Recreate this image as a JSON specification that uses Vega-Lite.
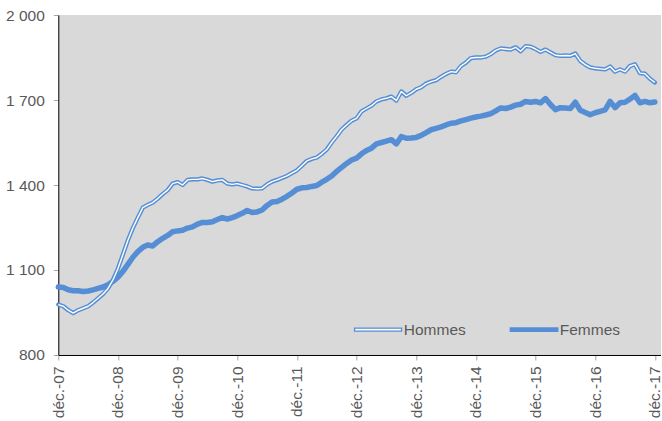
{
  "$schema": "https://vega.github.io/schema/vega-lite/v6.json",
  "width": 603,
  "height": 340,
  "autosize": {"type": "none"},
  "padding": {"left": 58.3, "top": 15, "right": 0, "bottom": 66},
  "background": "white",
  "config": {"view": {"fill": "#d9d9d9", "stroke": null}, "font": "Liberation Sans"},
  "data": {"values": [
    {"mois":0,"Hommes":978,"Femmes":1040},{"mois":1,"Hommes":972,"Femmes":1038},{"mois":2,"Hommes":958,"Femmes":1030},{"mois":3,"Hommes":948,"Femmes":1027},{"mois":4,"Hommes":958,"Femmes":1027},{"mois":5,"Hommes":965,"Femmes":1024},{"mois":6,"Hommes":972,"Femmes":1026},{"mois":7,"Hommes":985,"Femmes":1030},{"mois":8,"Hommes":1000,"Femmes":1035},{"mois":9,"Hommes":1015,"Femmes":1040},
    {"mois":10,"Hommes":1035,"Femmes":1048},{"mois":11,"Hommes":1065,"Femmes":1060},{"mois":12,"Hommes":1105,"Femmes":1075},{"mois":13,"Hommes":1155,"Femmes":1095},{"mois":14,"Hommes":1205,"Femmes":1120},{"mois":15,"Hommes":1248,"Femmes":1145},{"mois":16,"Hommes":1285,"Femmes":1165},{"mois":17,"Hommes":1320,"Femmes":1180},{"mois":18,"Hommes":1330,"Femmes":1188},{"mois":19,"Hommes":1338,"Femmes":1185},
    {"mois":20,"Hommes":1352,"Femmes":1200},{"mois":21,"Hommes":1368,"Femmes":1212},{"mois":22,"Hommes":1382,"Femmes":1222},{"mois":23,"Hommes":1405,"Femmes":1235},{"mois":24,"Hommes":1410,"Femmes":1238},{"mois":25,"Hommes":1400,"Femmes":1240},{"mois":26,"Hommes":1418,"Femmes":1248},{"mois":27,"Hommes":1420,"Femmes":1252},{"mois":28,"Hommes":1420,"Femmes":1262},{"mois":29,"Hommes":1423,"Femmes":1268},
    {"mois":30,"Hommes":1418,"Femmes":1268},{"mois":31,"Hommes":1412,"Femmes":1270},{"mois":32,"Hommes":1416,"Femmes":1278},{"mois":33,"Hommes":1418,"Femmes":1285},{"mois":34,"Hommes":1405,"Femmes":1280},{"mois":35,"Hommes":1402,"Femmes":1285},{"mois":36,"Hommes":1405,"Femmes":1292},{"mois":37,"Hommes":1400,"Femmes":1300},{"mois":38,"Hommes":1395,"Femmes":1310},{"mois":39,"Hommes":1388,"Femmes":1303},
    {"mois":40,"Hommes":1387,"Femmes":1305},{"mois":41,"Hommes":1388,"Femmes":1312},{"mois":42,"Hommes":1402,"Femmes":1328},{"mois":43,"Hommes":1412,"Femmes":1340},{"mois":44,"Hommes":1418,"Femmes":1342},{"mois":45,"Hommes":1425,"Femmes":1350},{"mois":46,"Hommes":1432,"Femmes":1360},{"mois":47,"Hommes":1442,"Femmes":1372},{"mois":48,"Hommes":1452,"Femmes":1385},{"mois":49,"Hommes":1468,"Femmes":1390},
    {"mois":50,"Hommes":1485,"Femmes":1391},{"mois":51,"Hommes":1492,"Femmes":1395},{"mois":52,"Hommes":1497,"Femmes":1398},{"mois":53,"Hommes":1510,"Femmes":1410},{"mois":54,"Hommes":1525,"Femmes":1420},{"mois":55,"Hommes":1550,"Femmes":1432},{"mois":56,"Hommes":1572,"Femmes":1448},{"mois":57,"Hommes":1596,"Femmes":1462},{"mois":58,"Hommes":1612,"Femmes":1476},{"mois":59,"Hommes":1627,"Femmes":1488},
    {"mois":60,"Hommes":1635,"Femmes":1495},{"mois":61,"Hommes":1660,"Femmes":1510},{"mois":62,"Hommes":1670,"Femmes":1522},{"mois":63,"Hommes":1680,"Femmes":1530},{"mois":64,"Hommes":1695,"Femmes":1545},{"mois":65,"Hommes":1702,"Femmes":1550},{"mois":66,"Hommes":1706,"Femmes":1555},{"mois":67,"Hommes":1712,"Femmes":1560},{"mois":68,"Hommes":1698,"Femmes":1545},{"mois":69,"Hommes":1730,"Femmes":1571},
    {"mois":70,"Hommes":1715,"Femmes":1565},{"mois":71,"Hommes":1725,"Femmes":1566},{"mois":72,"Hommes":1738,"Femmes":1568},{"mois":73,"Hommes":1745,"Femmes":1575},{"mois":74,"Hommes":1758,"Femmes":1585},{"mois":75,"Hommes":1765,"Femmes":1595},{"mois":76,"Hommes":1770,"Femmes":1600},{"mois":77,"Hommes":1782,"Femmes":1605},{"mois":78,"Hommes":1792,"Femmes":1612},{"mois":79,"Hommes":1800,"Femmes":1618},
    {"mois":80,"Hommes":1798,"Femmes":1620},{"mois":81,"Hommes":1820,"Femmes":1626},{"mois":82,"Hommes":1832,"Femmes":1631},{"mois":83,"Hommes":1848,"Femmes":1636},{"mois":84,"Hommes":1850,"Femmes":1640},{"mois":85,"Hommes":1850,"Femmes":1643},{"mois":86,"Hommes":1853,"Femmes":1647},{"mois":87,"Hommes":1862,"Femmes":1652},{"mois":88,"Hommes":1875,"Femmes":1662},{"mois":89,"Hommes":1882,"Femmes":1672},
    {"mois":90,"Hommes":1880,"Femmes":1670},{"mois":91,"Hommes":1878,"Femmes":1675},{"mois":92,"Hommes":1886,"Femmes":1682},{"mois":93,"Hommes":1872,"Femmes":1685},{"mois":94,"Hommes":1890,"Femmes":1695},{"mois":95,"Hommes":1888,"Femmes":1692},{"mois":96,"Hommes":1880,"Femmes":1695},{"mois":97,"Hommes":1870,"Femmes":1690},{"mois":98,"Hommes":1878,"Femmes":1705},{"mois":99,"Hommes":1868,"Femmes":1684},
    {"mois":100,"Hommes":1858,"Femmes":1666},{"mois":101,"Hommes":1856,"Femmes":1673},{"mois":102,"Hommes":1857,"Femmes":1672},{"mois":103,"Hommes":1856,"Femmes":1670},{"mois":104,"Hommes":1864,"Femmes":1692},{"mois":105,"Hommes":1838,"Femmes":1664},{"mois":106,"Hommes":1825,"Femmes":1656},{"mois":107,"Hommes":1815,"Femmes":1648},{"mois":108,"Hommes":1812,"Femmes":1655},{"mois":109,"Hommes":1810,"Femmes":1660},
    {"mois":110,"Hommes":1808,"Femmes":1665},{"mois":111,"Hommes":1818,"Femmes":1695},{"mois":112,"Hommes":1800,"Femmes":1673},{"mois":113,"Hommes":1808,"Femmes":1690},{"mois":114,"Hommes":1800,"Femmes":1692},{"mois":115,"Hommes":1820,"Femmes":1703},{"mois":116,"Hommes":1826,"Femmes":1716},{"mois":117,"Hommes":1795,"Femmes":1690},{"mois":118,"Hommes":1793,"Femmes":1695},{"mois":119,"Hommes":1775,"Femmes":1690},
    {"mois":120,"Hommes":1762,"Femmes":1693}
  ]},
  "transform": [{"fold": ["Hommes", "Femmes"], "as": ["serie", "valeur"]}],
  "encoding": {
    "x": {
      "field": "mois", "type": "quantitative",
      "scale": {"domain": [0, 121.3], "nice": false, "zero": false},
      "axis": {
        "values": [0, 12, 24, 36, 48, 60, 72, 84, 96, 108, 120],
        "title": null, "grid": false, "labelAngle": -90,
        "domainColor": "black", "domainWidth": 1,
        "tickColor": "#a6a6a6", "tickSize": 5, "labelPadding": 6,
        "labelFontSize": 15.5, "labelColor": "#595959", "labelFont": "Liberation Sans",
        "labelExpr": "'déc.-' + (datum.value / 12 + 7 < 10 ? '0' : '') + (datum.value / 12 + 7)"
      }
    },
    "y": {
      "field": "valeur", "type": "quantitative",
      "scale": {"domain": [800, 2000], "nice": false, "zero": false},
      "axis": {
        "values": [800, 1100, 1400, 1700, 2000],
        "title": null, "grid": false,
        "domainColor": "black", "domainWidth": 1,
        "tickColor": "#a6a6a6", "tickSize": 5, "labelPadding": 9,
        "labelFontSize": 15.5, "labelColor": "#595959", "labelFont": "Liberation Sans",
        "labelExpr": "replace(format(datum.value, ','), ',', ' ')"
      }
    }
  },
  "layer": [
    {
      "transform": [{"filter": "datum.serie === 'Femmes'"}],
      "mark": {"type": "line", "strokeWidth": 5.5, "strokeJoin": "round", "strokeCap": "round"},
      "encoding": {
        "color": {
          "field": "serie", "type": "nominal",
          "scale": {"domain": ["Hommes", "Femmes"], "range": ["#558ED5", "#558ED5"]},
          "legend": {
            "orient": "none", "legendX": 312, "legendY": 306.5, "direction": "horizontal",
            "title": null, "padding": 0,
            "symbolType": "M-1,-0.06H1V0.06H-1Z", "symbolSize": 2209, "symbolStrokeWidth": 1.3,
            "labelFontSize": 15.5, "labelColor": "#595959", "labelFont": "Liberation Sans",
            "labelOffset": 18, "columnPadding": 40,
            "encode": {"symbols": {"update": {
              "fill": {"signal": "datum.value === 'Hommes' ? 'white' : '#558ED5'"},
              "stroke": {"value": "#558ED5"},
              "strokeWidth": {"signal": "datum.value === 'Hommes' ? 1.3 : 1.8"},
              "opacity": {"value": 1}
            }}}
          }
        }
      }
    },
    {
      "transform": [{"filter": "datum.serie === 'Hommes'"}],
      "mark": {"type": "line", "strokeWidth": 4.3, "strokeJoin": "round", "strokeCap": "round"},
      "encoding": {"color": {"field": "serie", "type": "nominal"}}
    },
    {
      "transform": [{"filter": "datum.serie === 'Hommes'"}],
      "mark": {"type": "line", "color": "white", "strokeWidth": 1.4, "strokeJoin": "round"},
      "encoding": {}
    }
  ]
}
